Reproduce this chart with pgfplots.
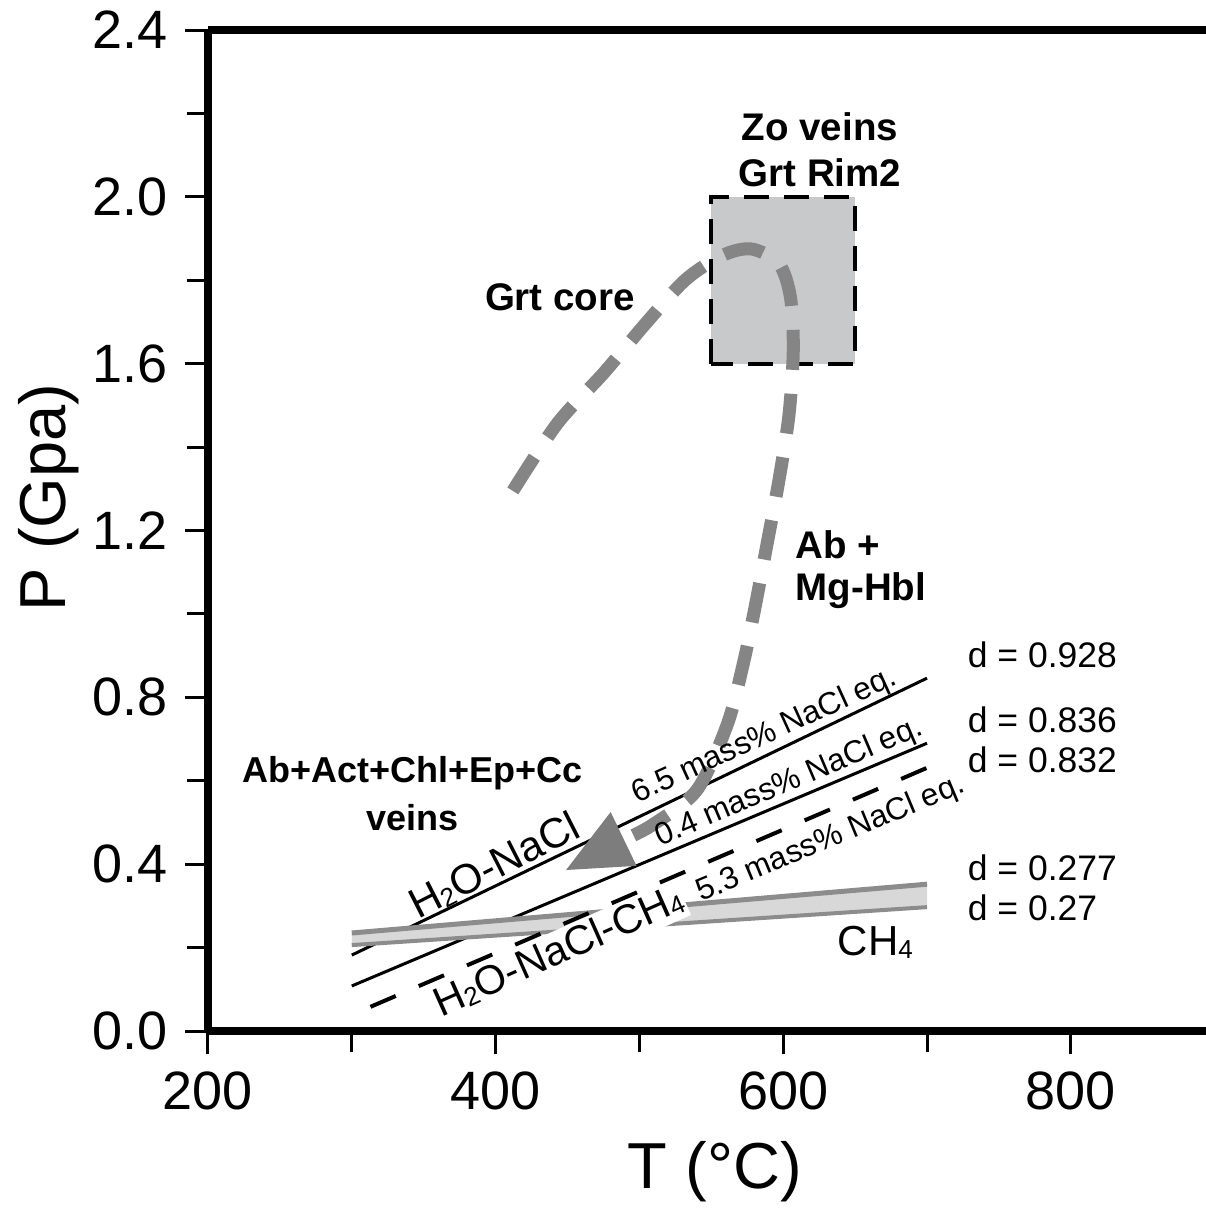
\documentclass[border=0pt]{standalone}
\usepackage{fontspec}
\setmainfont{Liberation Sans}
\usepackage{pgfplots}
\pgfplotsset{compat=1.18}
\definecolor{pathgray}{HTML}{858585}
\definecolor{boxgray}{HTML}{C8C9CB}
\definecolor{trigray}{HTML}{7D7D7D}
\definecolor{bandfill}{HTML}{D8D8D8}
\definecolor{bandedge}{HTML}{8C8C8C}
\newcommand\sub[1]{\raisebox{-0.5pt}{\fontsize{5.2}{6}\selectfont #1}}
\begin{document}
\begin{tikzpicture}
\begin{axis}[
  scale only axis, width=199.6pt, height=200.2pt,
  xmin=200, xmax=894, ymin=0, ymax=2.4,
  axis x line*=bottom, axis y line*=left,
  axis line style={-, line width=1.5pt, black},
  xtick={200,400,600,800}, minor xtick={300,500,700},
  xticklabels={200,400,600,800},
  ytick={0,0.4,0.8,1.2,1.6,2.0,2.4},
  minor ytick={0.2,0.6,1.0,1.4,1.8,2.2},
  yticklabels={0.0,0.4,0.8,1.2,1.6,2.0,2.4},
  tick align=outside,
  major tick length=4.6pt, minor tick length=4.2pt,
  tick style={line width=0.6pt, black},
  ticklabel style={font=\fontsize{10.8}{12}\selectfont},
  xlabel={T (°C)}, ylabel={P (Gpa)},
  label style={font=\fontsize{13}{15}\selectfont},
  xlabel style={at={(axis description cs:0.508,-0.141)}, anchor=center},
  ylabel style={at={(axis description cs:-0.160,0.533)}, anchor=center},
  clip=false,
]
% top frame line
\draw[line width=1.5pt] (rel axis cs:0,1) -- (rel axis cs:1,1);

% Zo veins / Grt Rim2 box
\addplot[fill=boxgray, draw=black, line width=0.8pt, dash pattern=on 5pt off 3pt]
  coordinates {(550,1.6) (550,2.0) (650,2.0) (650,1.6)} -- cycle;

% isochores
\addplot[black, line width=0.6pt] coordinates {(300,0.182) (700,0.846)};
\addplot[black, line width=0.6pt] coordinates {(300,0.108) (700,0.690)};

% CH4 band
\addplot[fill=bandfill, draw=none] coordinates {(300,0.235) (700,0.352) (700,0.297) (300,0.206)} -- cycle;
\addplot[bandedge, line width=1.0pt] coordinates {(300,0.235) (700,0.352)};
\addplot[bandedge, line width=0.8pt] coordinates {(300,0.206) (700,0.297)};

% H2O-NaCl-CH4 label (white box cuts the band)
\node[fill=white, inner ysep=0.6pt, inner xsep=0.3pt, text height=6.0pt, text depth=1.0pt, rotate=24, font=\fontsize{8.2}{10}\selectfont]
  at (axis cs:444,0.191) {H\sub{2}O-NaCl-CH\sub{4}};

% dashed isochore
\addplot[black, line width=0.8pt, dash pattern=on 5.5pt off 5pt] coordinates {(313,0.058) (700,0.631)};

% PT path
\addplot[pathgray, line width=2.6pt, smooth, dash pattern=on 8pt off 4.8pt] coordinates {
(412,1.295) (443,1.457) (475,1.577) (504,1.695) (532,1.801) (558,1.86)
(578,1.875) (597,1.84) (605,1.76) (607,1.633) (604,1.477) (597,1.32)
(589,1.172) (580,1.009) (572,0.877) (561,0.734) (540,0.578) (509,0.494) (487,0.455)};

% arrow head
\addplot[fill=trigray, draw=none] coordinates {(480,0.525) (449,0.386) (498,0.396)} -- cycle;

% labels along lines
\node[rotate=24.5, font=\fontsize{6.3}{7}\selectfont] at (axis cs:587,0.707) {6.5 mass\% NaCl eq.};
\node[rotate=23, font=\fontsize{6.3}{7}\selectfont] at (axis cs:604,0.595) {0.4 mass\% NaCl eq.};
\node[rotate=22.6, font=\fontsize{6.3}{7}\selectfont] at (axis cs:633,0.460) {5.3 mass\% NaCl eq.};
\node[rotate=27, font=\fontsize{8.4}{10}\selectfont] at (axis cs:399,0.397) {H\sub{2}O-NaCl};
\node[font=\fontsize{8.4}{10}\selectfont] at (axis cs:664,0.213) {CH\sub{4}};

% bold labels
\node[font=\fontsize{7.7}{9}\selectfont\bfseries] at (axis cs:625.5,2.167) {Zo veins};
\node[font=\fontsize{7.7}{9}\selectfont\bfseries] at (axis cs:625.5,2.059) {Grt Rim2};
\node[font=\fontsize{7.7}{9}\selectfont\bfseries] at (axis cs:444.7,1.760) {Grt core};
\node[anchor=west, inner sep=0pt, font=\fontsize{7.7}{9}\selectfont\bfseries] at (axis cs:608,1.165) {Ab +};
\node[anchor=west, inner sep=0pt, font=\fontsize{7.7}{9}\selectfont\bfseries] at (axis cs:608,1.057) {Mg-Hbl};
\node[font=\fontsize{7.2}{9}\selectfont\bfseries] at (axis cs:342,0.619) {Ab+Act+Chl+Ep+Cc};
\node[font=\fontsize{7.2}{9}\selectfont\bfseries] at (axis cs:342,0.511) {veins};

% density labels
\node[anchor=west, inner sep=0pt, font=\fontsize{7.1}{9}\selectfont] at (axis cs:727.7,0.901) {d = 0.928};
\node[anchor=west, inner sep=0pt, font=\fontsize{7.1}{9}\selectfont] at (axis cs:727.7,0.746) {d = 0.836};
\node[anchor=west, inner sep=0pt, font=\fontsize{7.1}{9}\selectfont] at (axis cs:727.7,0.650) {d = 0.832};
\node[anchor=west, inner sep=0pt, font=\fontsize{7.1}{9}\selectfont] at (axis cs:727.7,0.391) {d = 0.277};
\node[anchor=west, inner sep=0pt, font=\fontsize{7.1}{9}\selectfont] at (axis cs:727.7,0.295) {d = 0.27};
\end{axis}
\pgfresetboundingbox
\path[use as bounding box] (-41.6pt,-35.8pt) rectangle (199.6pt,206.2pt);
\end{tikzpicture}
\end{document}
